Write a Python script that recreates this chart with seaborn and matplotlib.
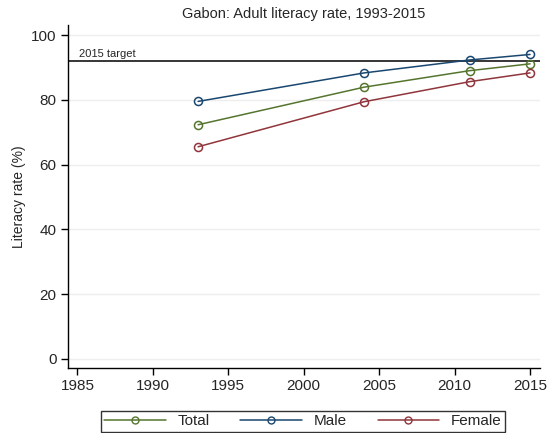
import pandas as pd
import seaborn as sns
from matplotlib import pyplot as plt
from matplotlib.lines import Line2D

# data
years = [1993, 2004, 2011, 2015]
total = [72.3, 83.9, 89.0, 91.1]
male = [79.5, 88.3, 92.3, 94.0]
female = [65.5, 79.4, 85.6, 88.3]
target = 92
groups = ['Total', 'Male', 'Female']
colors = {'Total': '#55752f', 'Male': '#1a476f', 'Female': '#90353b'}

df = pd.DataFrame({
    'year': years * 3,
    'rate': total + male + female,
    'group': ['Total'] * 4 + ['Male'] * 4 + ['Female'] * 4,
})

sns.set_style('white')
plt.rcParams['font.family'] = ['Liberation Sans', 'DejaVu Sans']

fig = plt.figure(figsize=(5.47, 4.33), dpi=100)
ax = fig.add_axes([0.1238, 0.1494, 0.8634, 0.7929])

for g in groups:
    sub = df[df['group'] == g]
    sns.lineplot(data=sub, x='year', y='rate', color=colors[g], marker='o',
                 markersize=5.8, markerfacecolor='none', markeredgecolor=colors[g],
                 markeredgewidth=1.1, linewidth=1.1, ax=ax, legend=False)

ax.axhline(target, color='black', linewidth=1.1, zorder=1)
ax.text(1985.1, target + 0.6, '2015 target', fontsize=8, va='bottom', ha='left')

ax.set_xlim(1984.36, 2015.66)
ax.set_ylim(-2.9, 103.1)
ax.set_xticks([1985, 1990, 1995, 2000, 2005, 2010, 2015])
ax.set_yticks([0, 20, 40, 60, 80, 100])
ax.grid(axis='y', color='#eeeeee', linewidth=1)
ax.set_axisbelow(True)
for s in ['top', 'right']:
    ax.spines[s].set_visible(False)
for s in ['left', 'bottom']:
    ax.spines[s].set_color('black')
    ax.spines[s].set_linewidth(1)
ax.tick_params(axis='both', direction='out', length=5, width=1,
               color='black', labelsize=11, bottom=True, left=True, pad=3)
ax.set_xlabel('')
ax.set_ylabel('Literacy rate (%)', fontsize=10, labelpad=4)
ax.set_title('Gabon: Adult literacy rate, 1993-2015', fontsize=10.5, pad=5)

handles = [Line2D([0, 0.5, 1], [0, 0, 0], color=colors[g], marker='o', markersize=5,
                  markerfacecolor='none', markeredgecolor=colors[g],
                  linewidth=1.1, markevery=[1]) for g in groups]
leg = fig.legend(handles, groups, loc='center', bbox_to_anchor=(0.554, 0.0266),
                 ncol=3, frameon=True, fancybox=False, fontsize=11,
                 handlelength=4.0, handletextpad=0.8, columnspacing=2.0,
                 borderpad=0.25, edgecolor='black', numpoints=1)
leg.get_frame().set_linewidth(1)

fig.savefig('out.png', dpi=100)
